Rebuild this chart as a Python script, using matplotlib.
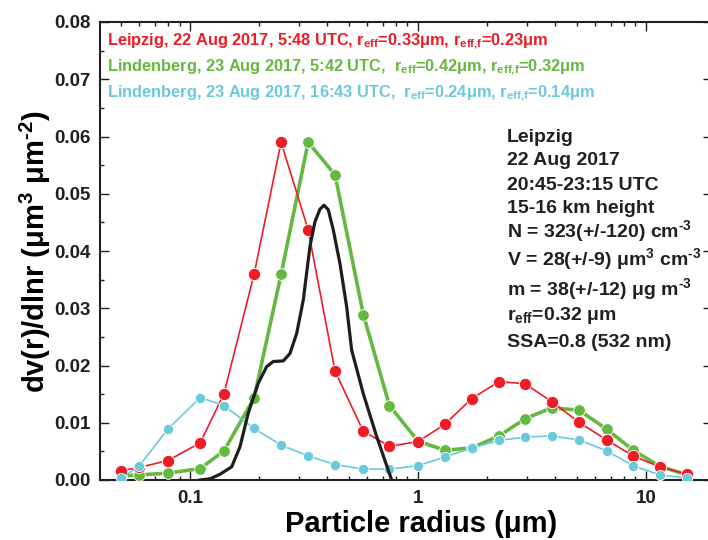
import matplotlib

matplotlib.use("Agg")

import matplotlib.pyplot as plt
import numpy as np
from matplotlib.ticker import FixedLocator, LogLocator, MultipleLocator, NullFormatter

plt.rcParams["font.family"] = ["Liberation Sans", "DejaVu Sans"]
plt.rcParams["font.weight"] = "bold"
plt.rcParams["mathtext.fontset"] = "custom"
plt.rcParams["mathtext.rm"] = "Liberation Sans:bold"
plt.rcParams["mathtext.it"] = "Liberation Sans:bold"
plt.rcParams["mathtext.bf"] = "Liberation Sans:bold"
plt.rcParams["mathtext.sf"] = "Liberation Sans:bold"

# radius bins (um), shared by the three retrievals
radius = [0.050, 0.060, 0.080, 0.111, 0.141, 0.191, 0.251, 0.330, 0.433, 0.576, 0.750,
          1.00, 1.31, 1.72, 2.27, 2.95, 3.86, 5.08, 6.72, 8.80, 11.5, 15.2]

leipzig = [0.0016, 0.0022, 0.0034, 0.0065, 0.0151, 0.0359, 0.0590, 0.0437, 0.0190, 0.0085, 0.0059,
           0.0067, 0.0097, 0.0142, 0.0172, 0.0168, 0.0137, 0.0101, 0.0070, 0.0042, 0.0023, 0.0010]
linden_am = [0.0007, 0.0009, 0.0012, 0.0020, 0.0051, 0.0143, 0.0359, 0.0590, 0.0533, 0.0289, 0.0130,
             0.0068, 0.0052, 0.0056, 0.0077, 0.0107, 0.0126, 0.0122, 0.0089, 0.0052, 0.0024, 0.0009]
linden_pm = [0.0003, 0.0025, 0.0089, 0.0144, 0.0130, 0.0090, 0.0061, 0.0042, 0.0027, 0.0019, 0.0019,
             0.0025, 0.0040, 0.0056, 0.0069, 0.0075, 0.0077, 0.0070, 0.0051, 0.0025, 0.0009, 0.0003]

# in-situ / model curve (black)
insitu_r = [0.1106, 0.1224, 0.1354, 0.1524, 0.1657, 0.1802, 0.1993, 0.2170, 0.2319, 0.2566, 0.2746,
            0.2938, 0.3140, 0.3360, 0.3534, 0.3716, 0.3871, 0.4043, 0.4252, 0.4549, 0.4867, 0.5119,
            0.5756, 0.6590, 0.7668]
insitu_v = [0.0, 0.0002, 0.0010, 0.0023, 0.0058, 0.0117, 0.0169, 0.0198, 0.0207, 0.0208, 0.0221,
            0.0256, 0.0314, 0.0408, 0.0451, 0.0473, 0.0480, 0.0472, 0.0437, 0.0378, 0.0303, 0.0227,
            0.0151, 0.0076, 0.0]

legend_lines = [
    "Leipzig, 22 Aug 2017, 5:48 UTC, r$_{\\text{eff}}$=0.33μm, r$_{\\text{eff,f}}$=0.23μm",
    "Lindenberg, 23 Aug 2017, 5:42 UTC,  r$_{\\text{eff}}$=0.42μm, r$_{\\text{eff,f}}$=0.32μm",
    "Lindenberg, 23 Aug 2017, 16:43 UTC,  r$_{\\text{eff}}$=0.24μm, r$_{\\text{eff,f}}$=0.14μm",
]
info_lines = [
    "Leipzig",
    "22 Aug 2017",
    "20:45-23:15 UTC",
    "15-16 km height",
    "N = 323(+/-120) cm$^{\\text{-3}}$",
    "V = 28(+/-9) μm$^{\\text{3}}$ cm$^{\\text{-3}}$",
    "m = 38(+/-12) μg m$^{\\text{-3}}$",
    "r$_{\\text{eff}}$=0.32 μm",
    "SSA=0.8 (532 nm)",
]

RED = "#ee1d25"
GREEN = "#66b940"
CYAN = "#6bc9dc"
BLACK = "#1e1e1e"

fig = plt.figure(figsize=(7.08, 5.40), dpi=100)
ax = fig.add_axes([100 / 708, 60 / 540, 612 / 708, 458 / 540])

ax.plot(radius, linden_am, "-o", color=GREEN, lw=2.6, ms=8.4, mec="white", mew=0.6, zorder=3)
ax.plot(radius, leipzig, "-o", color=RED, lw=1.2, ms=8.8, mec="white", mew=0.6, zorder=4)
ax.plot(radius, linden_pm, "-o", color=CYAN, lw=1.2, ms=7.4, mec="white", mew=0.6, zorder=5)
ax.plot(insitu_r, insitu_v, "-", color=BLACK, lw=2.3, zorder=6)

ax.set_xscale("log")
ax.set_xlim(0.0403, 19.5)
ax.set_ylim(0, 0.08)

ax.xaxis.set_major_locator(FixedLocator([0.1, 1, 10]))
ax.set_xticklabels(["0.1", "1", "10"])
ax.xaxis.set_minor_locator(LogLocator(base=10, subs=np.arange(2, 10)))
ax.xaxis.set_minor_formatter(NullFormatter())
ax.yaxis.set_major_locator(MultipleLocator(0.01))
ax.yaxis.set_minor_locator(MultipleLocator(0.005))
ax.yaxis.set_major_formatter(matplotlib.ticker.FormatStrFormatter("%.2f"))

ax.tick_params(which="both", direction="in", top=True, right=True, width=1.0, colors="#231f20")
ax.tick_params(which="major", length=6.5, labelsize=13.5, pad=7)
ax.tick_params(which="minor", length=3)
for lbl in ax.get_xticklabels() + ax.get_yticklabels():
    lbl.set_fontweight("bold")
for spine in ax.spines.values():
    spine.set_linewidth(1.5)
    spine.set_color("#231f20")

ax.set_xlabel("Particle radius (μm)", fontsize=21, fontweight="bold", va="center")
ax.xaxis.set_label_coords(0.5245, -0.096)
ax.set_ylabel("dv(r)/dlnr (μm$^{\\text{3}}$ μm$^{\\text{-2}}$)", fontsize=21, fontweight="bold", va="center")
ax.yaxis.set_label_coords(-0.106, 0.5)

# colored legend text, top-left
for txt, col, yb in zip(legend_lines, [RED, GREEN, CYAN], [0.9498, 0.893, 0.8362]):
    ax.text(0.0114, yb, txt, color=col, fontsize=11.8, fontweight="bold",
            transform=ax.transAxes, va="baseline", ha="left")

# measurement summary block
info_y = [0.7387, 0.6878, 0.6332, 0.5822, 0.5311, 0.4694, 0.4039, 0.3493, 0.2910]
for txt, yb in zip(info_lines, info_y):
    ax.text(0.665, yb, txt, color="#231f20", fontsize=14, fontweight="bold",
            transform=ax.transAxes, va="baseline", ha="left")

fig.savefig("out.png", dpi=100)
